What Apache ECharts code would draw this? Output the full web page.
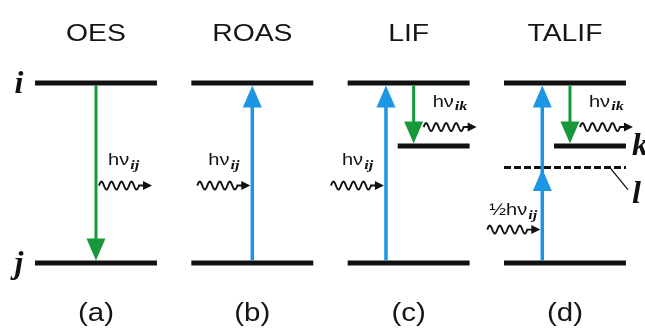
<!DOCTYPE html>
<html>
<head>
<meta charset="utf-8">
<script src="https://cdn.jsdelivr.net/npm/echarts@6/dist/echarts.min.js"></script>
<style>
  html, body { margin: 0; padding: 0; background: #fff; }
  #chart { width: 645px; height: 331px; }
</style>
</head>
<body>
<div id="chart"></div>
<script>
// ---- diagram content -------------------------------------------------------
const methods = ['OES', 'ROAS', 'LIF', 'TALIF'];
const panelTags = ['(a)', '(b)', '(c)', '(d)'];
const levelNames = ['i', 'j', 'k', 'l'];
const levelEnergy = [1, 0, 0.65, 0.53];           // relative energies of the levels
const panelLevels = [['i', 'j'], ['i', 'j'], ['i', 'k', 'j'], ['i', 'k', 'l', 'j']];
const pumpPaths = [[1, 'j', 'i'], [2, 'j', 'i'], [3, 'j', 'l', 'i']];   // absorption, bottom to top
const decays = [[0, 'i', 'j'], [2, 'i', 'k'], [3, 'i', 'k']];           // emission
const photonPanel = [0, 1, 2, 2, 3, 3];
const photonDir = ['out', 'in', 'in', 'out', 'in', 'out'];
const photonText = ['hν', 'hν', 'hν', 'hν', '½hν', 'hν'];
const photonSub = ['ij', 'ij', 'ij', 'ik', 'ij', 'ik'];

// ---- layout ----------------------------------------------------------------
const XMIN = -0.614, XMAX = 3.512, YMIN = -0.378, YMAX = 1.461;
const HALF = 0.39;           // half length of a level line (panel units)
const SHORT_FROM = -0.07;    // left end of the k level
const PUMP_SHIFT = -0.145, DECAY_SHIFT = 0.032;   // arrow offsets when a panel has both
const waveLift = [0.43, 0.43, 0.43, 0.30, 0.35, 0.30];  // photon height within its transition
const TITLE_E = 1.272, TAG_E = -0.282;
const BLACK = '#111', GREEN = '#17993b', BLUE = '#1c95e2';
const SANS = '"Liberation Sans", Arial, sans-serif';
const SERIF = '"Liberation Serif", "Times New Roman", serif';
const WIDE = 1.18;           // horizontal stretch of the sans-serif lettering

const E = n => levelEnergy[levelNames.indexOf(n)];
const hasPump = p => pumpPaths.some(r => r[0] === p);
const hasDecay = p => decays.some(r => r[0] === p);
const both = p => hasPump(p) && hasDecay(p);

const measureCtx = document.createElement('canvas').getContext('2d');
function textWidth(str, font) { measureCtx.font = font; return measureCtx.measureText(str).width; }

function label(text, x, y, font, align, sx, fill) {
  return { type: 'text', x, y, scaleX: sx || 1,
           style: { text, x: 0, y: 0, font, fill: fill || BLACK, align, verticalAlign: 'middle' } };
}

// levels: [panel, energy, level index]
const levelData = [];
panelLevels.forEach((names, p) => names.forEach(n => levelData.push([p, E(n), levelNames.indexOf(n)])));

function arrowHead(x, tipY, dir, color) {
  // dir = -1 pointing up, +1 pointing down
  const L = 22, W = 9.5;
  return { type: 'polygon', shape: { points: [[x, tipY], [x - W, tipY - dir * L], [x + W, tipY - dir * L]] },
           style: { fill: color } };
}

function wave(x0, y0, color) {
  const pts = [];
  for (let t = 0; t <= 40; t += 0.5) pts.push([x0 + t, y0 - 4 * Math.sin(2 * Math.PI * t / 10)]);
  pts.push([x0 + 46, y0]);
  return [
    { type: 'polyline', shape: { points: pts }, style: { stroke: color, lineWidth: 1.9, fill: null } },
    { type: 'polygon', shape: { points: [[x0 + 53, y0], [x0 + 44, y0 - 4.5], [x0 + 44, y0 + 4.5]] }, style: { fill: color } }
  ];
}

const chart = echarts.init(document.getElementById('chart'), null, { renderer: 'canvas' });

chart.setOption({
  animation: false,
  backgroundColor: '#fff',
  grid: { left: 0, right: 0, top: 0, bottom: 0 },
  xAxis: { type: 'value', min: XMIN, max: XMAX, show: false },
  yAxis: { type: 'value', min: YMIN, max: YMAX, show: false },
  series: [
    // energy levels
    {
      type: 'custom', clip: false, z: 2,
      data: levelData,
      renderItem(params, api) {
        const p = api.value(0), e = api.value(1), name = levelNames[api.value(2)];
        const a = api.coord([p + (name === 'k' ? SHORT_FROM : -HALF), e]);
        const b = api.coord([p + HALF, e]);
        const dashed = name === 'l';
        return { type: 'line', shape: { x1: a[0], y1: a[1], x2: b[0], y2: b[1] },
                 style: { stroke: BLACK, lineWidth: dashed ? 3 : 5, lineDash: dashed ? [7, 3] : null } };
      }
    },
    // absorption arrows
    {
      type: 'custom', clip: false, z: 3,
      data: pumpPaths.map(r => [r[0], E(r[1]), E(r[r.length - 1])]),
      renderItem(params, api) {
        const row = pumpPaths[params.dataIndex];
        const p = row[0], xs = p + (both(p) ? PUMP_SHIFT : 0);
        const bottom = api.coord([xs, api.value(1)]);
        const top = api.coord([xs, api.value(2)]);
        const x = bottom[0];
        const children = [{ type: 'line', shape: { x1: x, y1: bottom[1] - 2.5, x2: x, y2: top[1] + 12 },
                            style: { stroke: BLUE, lineWidth: 3.5 } }];
        row.slice(2).forEach(n => {
          const y = api.coord([xs, E(n)])[1];
          children.push(arrowHead(x, y + (n === 'l' ? 1.5 : 2.5), -1, BLUE));
        });
        return { type: 'group', children };
      }
    },
    // emission arrows
    {
      type: 'custom', clip: false, z: 3,
      data: decays.map(r => [r[0], E(r[1]), E(r[2])]),
      renderItem(params, api) {
        const p = api.value(0), xs = p + (both(p) ? DECAY_SHIFT : 0);
        const top = api.coord([xs, api.value(1)]);
        const bot = api.coord([xs, api.value(2)]);
        const x = top[0];
        return { type: 'group', children: [
          { type: 'line', shape: { x1: x, y1: top[1] + 2.5, x2: x, y2: bot[1] - 12 },
            style: { stroke: GREEN, lineWidth: 3 } },
          arrowHead(x, bot[1] - 2.5, 1, GREEN)
        ] };
      }
    },
    // photons
    {
      type: 'custom', clip: false, z: 4,
      data: photonPanel.map((p, k) => {
        const tr = photonDir[k] === 'in' ? pumpPaths.find(r => r[0] === p) : decays.find(r => r[0] === p);
        const lo = photonDir[k] === 'in' ? E(tr[1]) : E(tr[2]);
        const hi = photonDir[k] === 'in' ? E(tr[2]) : E(tr[1]);
        return [p, lo + waveLift[k] * (hi - lo)];
      }),
      renderItem(params, api) {
        const k = params.dataIndex, p = api.value(0);
        const out = photonDir[k] === 'out';
        const shift = both(p) ? (out ? DECAY_SHIFT : PUMP_SHIFT) : 0;
        const c = api.coord([p + shift, api.value(1)]);
        const ax = c[0], y = c[1];
        const x0 = out ? ax + (both(p) ? 10 : 3) : ax - 2 - 53;
        const fMain = '17px ' + SANS;
        const fSub = 'bold italic 12px ' + SERIF;
        const half = photonText[k].startsWith('½');
        const tx = x0 + (half ? 2 : (out ? 9 : 11));
        const ty = y - (half ? 19 : 25);
        const w = textWidth(photonText[k], fMain) * WIDE;
        return { type: 'group', children: wave(x0, y, BLACK).concat([
          label(photonText[k], tx, ty, fMain, 'left', WIDE),
          label(photonSub[k], tx + w + 1, ty + 5, fSub, 'left', 1.35)
        ]) };
      }
    },
    // titles and panel tags
    {
      type: 'custom', clip: false, z: 4,
      data: methods.map((m, p) => [p, TITLE_E]),
      renderItem(params, api) {
        const p = api.value(0);
        const t = api.coord([p, api.value(1)]);
        const b = api.coord([p, TAG_E]);
        return { type: 'group', children: [
          label(methods[p], t[0], t[1], '24px ' + SANS, 'center', WIDE, '#151515'),
          label(panelTags[p], b[0], b[1], '25px ' + SANS, 'center', WIDE, '#151515')
        ] };
      }
    },
    // level names
    {
      type: 'custom', clip: false, z: 4,
      data: [[0, E('i'), 0], [0, E('j'), 1], [3, E('k'), 2], [3, E('l'), 3]],
      renderItem(params, api) {
        const p = api.value(0), e = api.value(1), name = levelNames[api.value(2)];
        const font = 'bold italic 32px ' + SERIF;
        if (name === 'i' || name === 'j') {
          const c = api.coord([p - HALF, e]);
          return label(name, c[0] - 16, c[1] + 2, font, 'center');
        }
        const c = api.coord([p + HALF, e]);
        if (name === 'k') return label(name, c[0] + 6, c[1] + 1, font, 'left');
        return { type: 'group', children: [
          { type: 'line', shape: { x1: c[0] - 16, y1: c[1], x2: c[0] + 2, y2: c[1] + 22 },
            style: { stroke: BLACK, lineWidth: 1.3 } },
          label(name, c[0] + 6, c[1] + 27, font, 'left')
        ] };
      }
    }
  ]
});
</script>
</body>
</html>
